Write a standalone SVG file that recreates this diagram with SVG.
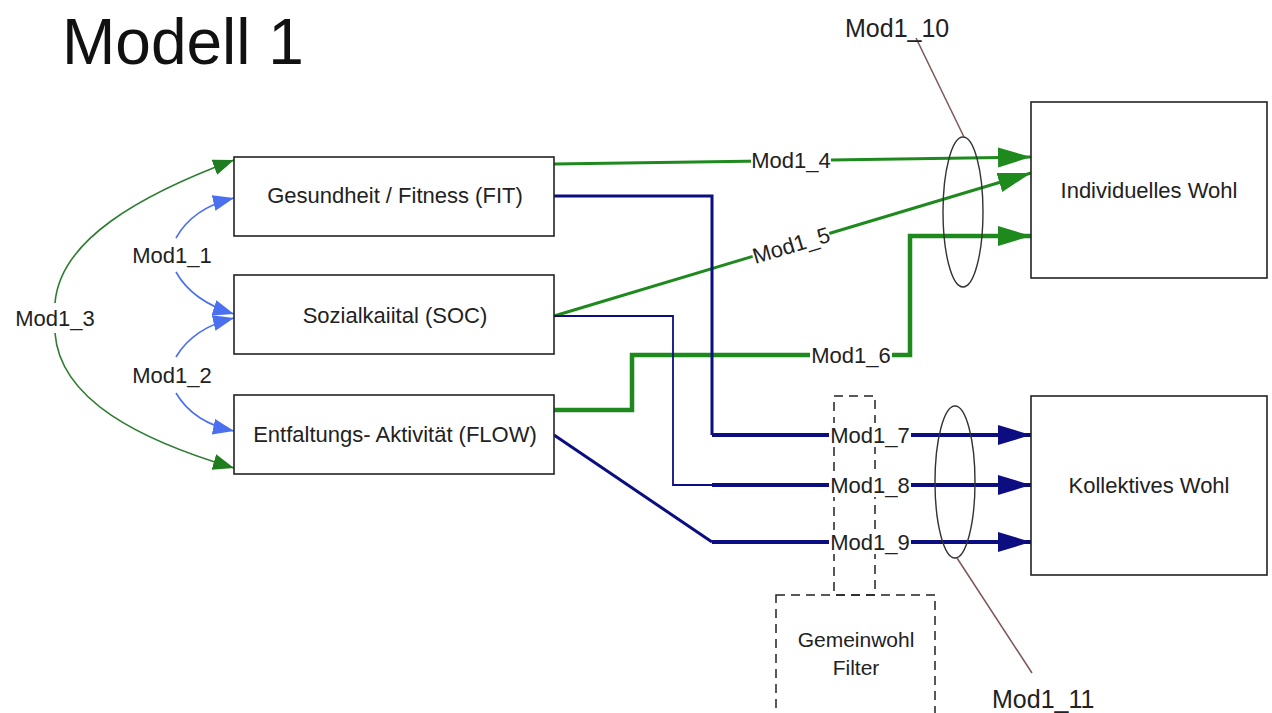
<svg xmlns="http://www.w3.org/2000/svg" width="1272" height="713" viewBox="0 0 1272 713">
<style>
text{font-family:"Liberation Sans",Arial,sans-serif;fill:#222}
.box{fill:#fff;stroke:#222;stroke-width:1.6}
.bt{font-size:22px;text-anchor:middle}
.lb{font-size:22px;text-anchor:middle}
.bg{fill:#fff}
.g{fill:none;stroke:#1e8a1e}
.n{fill:none;stroke:#0d0d82}
.b{fill:none;stroke:#4a70f0;stroke-width:1.6}
.dg{fill:none;stroke:#2e7d32;stroke-width:1.6}
.dash{fill:none;stroke:#222;stroke-width:1.5;stroke-dasharray:9 6}
.ell{fill:none;stroke:#333;stroke-width:1.4}
.lead{fill:none;stroke:#7a5656;stroke-width:1.5}
</style>
<defs>
<marker id="ag" markerUnits="userSpaceOnUse" markerWidth="34" markerHeight="22" refX="33" refY="10" orient="auto"><path d="M0,0 L33,10 L0,20 z" fill="#1e8a1e"/></marker>
<marker id="an" markerUnits="userSpaceOnUse" markerWidth="34" markerHeight="22" refX="33" refY="10" orient="auto"><path d="M0,0 L33,10 L0,20 z" fill="#0d0d82"/></marker>
<marker id="ab" markerUnits="userSpaceOnUse" markerWidth="22" markerHeight="18" refX="21" refY="8" orient="auto"><path d="M0,0 L21,8 L0,16 z" fill="#4a70f0"/></marker>
<marker id="adg" markerUnits="userSpaceOnUse" markerWidth="22" markerHeight="18" refX="21" refY="8" orient="auto"><path d="M0,0 L21,8 L0,16 z" fill="#1e7d1e"/></marker>
</defs>
<rect width="1272" height="713" fill="#fff"/>
<text x="62" y="64" style="font-size:64px;fill:#111">Modell 1</text>

<g id="filter">
<rect class="dash" x="834" y="396" width="41" height="199"/>
<rect class="dash" x="776" y="595" width="159" height="130"/>
<text class="bt" x="856" y="647" style="font-size:21px">Gemeinwohl</text>
<text class="bt" x="856" y="675" style="font-size:21px">Filter</text>
</g>

<g id="connectors">
<!-- left curves -->
<path class="dg" d="M55,303 C60,240 140,195 234,160" marker-end="url(#adg)"/>
<path class="dg" d="M55,333 C60,400 140,440 234,468" marker-end="url(#adg)"/>
<path class="b" d="M176,238 C186,220 205,205 234,198" marker-end="url(#ab)"/>
<path class="b" d="M176,272 C186,290 205,305 234,314" marker-end="url(#ab)"/>
<path class="b" d="M176,357 C186,340 205,325 234,318" marker-end="url(#ab)"/>
<path class="b" d="M176,393 C186,410 205,425 234,431" marker-end="url(#ab)"/>
<!-- green to Individuelles Wohl -->
<path class="g" style="stroke-width:3" d="M554,164 L1031,157" marker-end="url(#ag)"/>
<path class="g" style="stroke-width:3" d="M554,316 L1031,173" marker-end="url(#ag)"/>
<path class="g" style="stroke-width:4.5" d="M554,410 L632,410 L632,355 L910,355 L910,236 L1031,236" marker-end="url(#ag)"/>
<!-- navy to Kollektives Wohl -->
<path class="n" style="stroke-width:3" d="M554,196 L712,196 L712,435"/>
<path class="n" style="stroke-width:4" d="M712,435 L1031,435" marker-end="url(#an)"/>
<path class="n" style="stroke-width:1.8" d="M554,316 L673,316 L673,485 L712,485"/>
<path class="n" style="stroke-width:4" d="M712,485 L1031,485" marker-end="url(#an)"/>
<path class="n" style="stroke-width:3" d="M554,435 L712,542"/>
<path class="n" style="stroke-width:4" d="M712,542 L1031,542" marker-end="url(#an)"/>
<!-- ellipses and leaders -->
<ellipse class="ell" cx="963" cy="212" rx="20" ry="75"/>
<ellipse class="ell" cx="955" cy="482" rx="20" ry="76"/>
<path class="lead" d="M916,38 L964,137"/>
<path class="lead" d="M957,558 L1032,673"/>
<!-- labels -->
<rect class="bg" x="12" y="305" width="86" height="26"/>
<text class="lb" x="55" y="326">Mod1_3</text>
<rect class="bg" x="132" y="242" width="80" height="26"/>
<text class="lb" x="172" y="263">Mod1_1</text>
<rect class="bg" x="132" y="362" width="80" height="26"/>
<text class="lb" x="172" y="383">Mod1_2</text>
<rect class="bg" x="751" y="148" width="80" height="24"/>
<text class="lb" x="791" y="168">Mod1_4</text>
<g transform="translate(791,245) rotate(-16.7)">
<rect class="bg" x="-40" y="-12" width="80" height="24"/>
<text class="lb" x="0" y="8">Mod1_5</text>
</g>
<rect class="bg" x="810" y="343" width="82" height="24"/>
<text class="lb" x="851" y="363">Mod1_6</text>
<rect class="bg" x="829" y="423" width="82" height="24"/>
<text class="lb" x="870" y="443">Mod1_7</text>
<rect class="bg" x="829" y="473" width="82" height="24"/>
<text class="lb" x="870" y="493">Mod1_8</text>
<rect class="bg" x="829" y="530" width="82" height="24"/>
<text class="lb" x="870" y="550">Mod1_9</text>
<text x="845" y="37" style="font-size:25px">Mod1_10</text>
<text x="992" y="708" style="font-size:25px">Mod1_11</text>
</g>

<g id="fit">
<rect class="box" x="234" y="157" width="320" height="79"/>
<text class="bt" x="395" y="203">Gesundheit / Fitness (FIT)</text>
</g>
<g id="soc">
<rect class="box" x="234" y="275" width="320" height="79"/>
<text class="bt" x="395" y="323">Sozialkaiital (SOC)</text>
</g>
<g id="flow">
<rect class="box" x="234" y="395" width="320" height="79"/>
<text class="bt" x="395" y="442">Entfaltungs- Aktivität (FLOW)</text>
</g>
<g id="individuell">
<rect class="box" x="1031" y="102" width="236" height="176"/>
<text class="bt" x="1149" y="198">Individuelles Wohl</text>
</g>
<g id="kollektiv">
<rect class="box" x="1031" y="396" width="236" height="179"/>
<text class="bt" x="1149" y="493">Kollektives Wohl</text>
</g>
</svg>
